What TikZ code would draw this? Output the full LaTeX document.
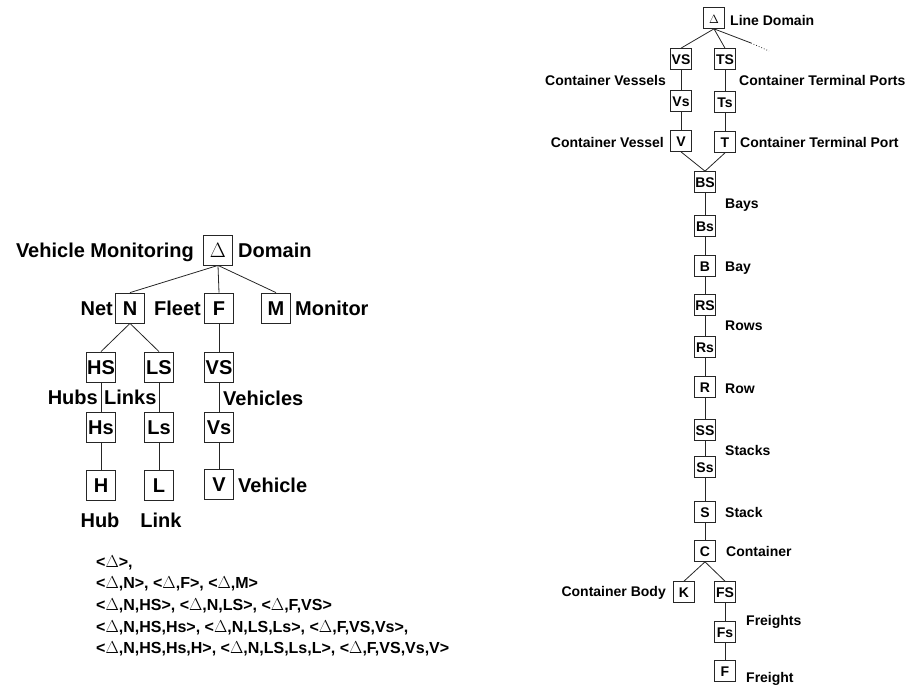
\documentclass[tikz,border=0pt]{standalone}
\usepackage{fontspec}
\setmainfont{Liberation Sans}
\begin{document}
\begin{tikzpicture}[x=1pt,y=-1pt,
  bigbox/.style={draw=black!85, line width=0.8pt, minimum width=29pt, minimum height=30pt, inner sep=0pt,
    font=\bfseries\fontsize{20}{24}\selectfont, text height=14.3pt, text depth=0pt},
  smallbox/.style={draw=black!85, line width=0.7pt, minimum width=21pt, minimum height=21pt, inner sep=0pt,
    font=\bfseries\fontsize{14}{17}\selectfont, text height=10pt, text depth=0pt},
  biglbl/.style={inner sep=0pt, font=\bfseries\fontsize{20}{24}\selectfont, text height=14.3pt, text depth=0pt},
  smalllbl/.style={inner sep=0pt, font=\bfseries\fontsize{14}{17}\selectfont, text height=10pt, text depth=0pt},
  seqlbl/.style={inner sep=0pt, anchor=west, font=\bfseries\fontsize{16}{20}\selectfont, text height=11.5pt, text depth=0pt},
  edge/.style={line width=0.8pt, black!85}
]
\useasboundingbox (0,0) rectangle (913,686);

% ---------- left tree ----------
\node[bigbox] (D) at (218,250) {$\Delta$};
\node[bigbox] (N) at (130,308) {N};
\node[bigbox] (F) at (219,308) {F};
\node[bigbox] (M) at (276,308) {M};
\node[bigbox] (HS) at (101,367) {HS};
\node[bigbox] (LS) at (159,367) {LS};
\node[bigbox] (VS) at (219,367) {VS};
\node[bigbox] (Hs) at (101,427) {Hs};
\node[bigbox] (Ls) at (159,427) {Ls};
\node[bigbox] (Vs) at (219,427) {Vs};
\node[bigbox] (H) at (101,485) {H};
\node[bigbox] (L) at (159,485) {L};
\node[bigbox] (V) at (219,484) {V};

\draw[edge] (D.south) -- (N.north);
\draw[edge] (D.south) -- (F.north);
\draw[edge] (D.south) -- (M.north);
\draw[edge] (N.south) -- (HS.north);
\draw[edge] (N.south) -- (LS.north);
\draw[edge] (F.south) -- (VS.north);
\draw[edge] (HS) -- (Hs);
\draw[edge] (Hs) -- (H);
\draw[edge] (LS) -- (Ls);
\draw[edge] (Ls) -- (L);
\draw[edge] (VS) -- (Vs);
\draw[edge] (Vs) -- (V);

\node[biglbl, anchor=east] (lvm) at (194,250) {Vehicle Monitoring};
\node[biglbl, anchor=west] (ldom) at (238,250) {Domain};
\node[biglbl, anchor=east] (lnet) at (113,308) {Net};
\node[biglbl, anchor=east] (lfleet) at (201,308) {Fleet};
\node[biglbl, anchor=west] (lmon) at (295,308) {Monitor};
\node[biglbl, anchor=east] (lhubs) at (98,397) {Hubs};
\node[biglbl, anchor=west] (llinks) at (104,397) {Links};
\node[biglbl, anchor=west] (lvehs) at (223,398) {Vehicles};
\node[biglbl, anchor=west] (lveh) at (238,485) {Vehicle};
\node[biglbl] (lhub) at (100,520) {Hub};
\node[biglbl] (llink) at (161,520) {Link};

% ---------- sequences ----------
\node[seqlbl] (s1) at (96,562) {<$\Delta$>,};
\node[seqlbl] (s2) at (96,583) {<$\Delta$,N>, <$\Delta$,F>, <$\Delta$,M>};
\node[seqlbl] (s3) at (96,605) {<$\Delta$,N,HS>, <$\Delta$,N,LS>, <$\Delta$,F,VS>};
\node[seqlbl] (s4) at (96,627) {<$\Delta$,N,HS,Hs>, <$\Delta$,N,LS,Ls>, <$\Delta$,F,VS,Vs>,};
\node[seqlbl] (s5) at (96,648) {<$\Delta$,N,HS,Hs,H>, <$\Delta$,N,LS,Ls,L>, <$\Delta$,F,VS,Vs,V>};

% ---------- right tree ----------
\node[smallbox, font=\fontsize{12}{14}\selectfont] (RD) at (714,18) {$\Delta$};
\node[smallbox] (VS2) at (681,59) {VS};
\node[smallbox] (TS) at (725,59) {TS};
\node[smallbox] (Vs2) at (681,101) {Vs};
\node[smallbox] (Ts) at (725,102) {Ts};
\node[smallbox] (V2) at (681,141) {V};
\node[smallbox] (T) at (725,142) {T};
\node[smallbox] (BS) at (705,182) {BS};
\node[smallbox] (Bs) at (705,226) {Bs};
\node[smallbox] (B) at (705,266) {B};
\node[smallbox] (RS) at (705,305) {RS};
\node[smallbox] (Rs) at (705,347) {Rs};
\node[smallbox] (R) at (705,387) {R};
\node[smallbox] (SS) at (705,430) {SS};
\node[smallbox] (Ss) at (705,467) {Ss};
\node[smallbox] (S) at (705,512) {S};
\node[smallbox] (C) at (705,551) {C};
\node[smallbox] (K) at (684,592) {K};
\node[smallbox] (FS) at (725,592) {FS};
\node[smallbox] (Fs) at (725,632) {Fs};
\node[smallbox] (F2) at (725,671) {F};

\coordinate (dmid) at (751,43);
\coordinate (dend) at (769,51);
\draw[edge] (RD.south) -- (VS2.north);
\draw[edge] (RD.south) -- (TS.north);
\draw[edge] (RD.south) -- (dmid);
\draw[edge, dotted] (dmid) -- (dend);
\draw[edge] (VS2) -- (Vs2);
\draw[edge] (Vs2) -- (V2);
\draw[edge] (TS) -- (Ts);
\draw[edge] (Ts) -- (T);
\draw[edge] (V2.south) -- (BS.north);
\draw[edge] (T.south) -- (BS.north);
\draw[edge] (BS) -- (Bs);
\draw[edge] (Bs) -- (B);
\draw[edge] (B) -- (RS);
\draw[edge] (RS) -- (Rs);
\draw[edge] (Rs) -- (R);
\draw[edge] (R) -- (SS);
\draw[edge] (SS) -- (Ss);
\draw[edge] (Ss) -- (S);
\draw[edge] (S) -- (C);
\draw[edge] (C.south) -- (K.north);
\draw[edge] (C.south) -- (FS.north);
\draw[edge] (FS) -- (Fs);
\draw[edge] (Fs) -- (F2);

\node[smalllbl, anchor=west] (rline) at (730,20) {Line Domain};
\node[smalllbl, anchor=east] (rcvs) at (666,80) {Container Vessels};
\node[smalllbl, anchor=west] (rctps) at (739,80) {Container Terminal Ports};
\node[smalllbl, anchor=east] (rcv) at (664,142) {Container Vessel};
\node[smalllbl, anchor=west] (rctp) at (740,142) {Container Terminal Port};
\node[smalllbl, anchor=west] (rbays) at (725,203) {Bays};
\node[smalllbl, anchor=west] (rbay) at (725,266) {Bay};
\node[smalllbl, anchor=west] (rrows) at (725,325) {Rows};
\node[smalllbl, anchor=west] (rrow) at (725,388) {Row};
\node[smalllbl, anchor=west] (rstacks) at (725,450) {Stacks};
\node[smalllbl, anchor=west] (rstack) at (725,512) {Stack};
\node[smalllbl, anchor=west] (rcont) at (726,551) {Container};
\node[smalllbl, anchor=east] (rbody) at (666,591) {Container Body};
\node[smalllbl, anchor=west] (rfrs) at (746,620) {Freights};
\node[smalllbl, anchor=west] (rfr) at (746,677) {Freight};
\end{tikzpicture}
\end{document}
